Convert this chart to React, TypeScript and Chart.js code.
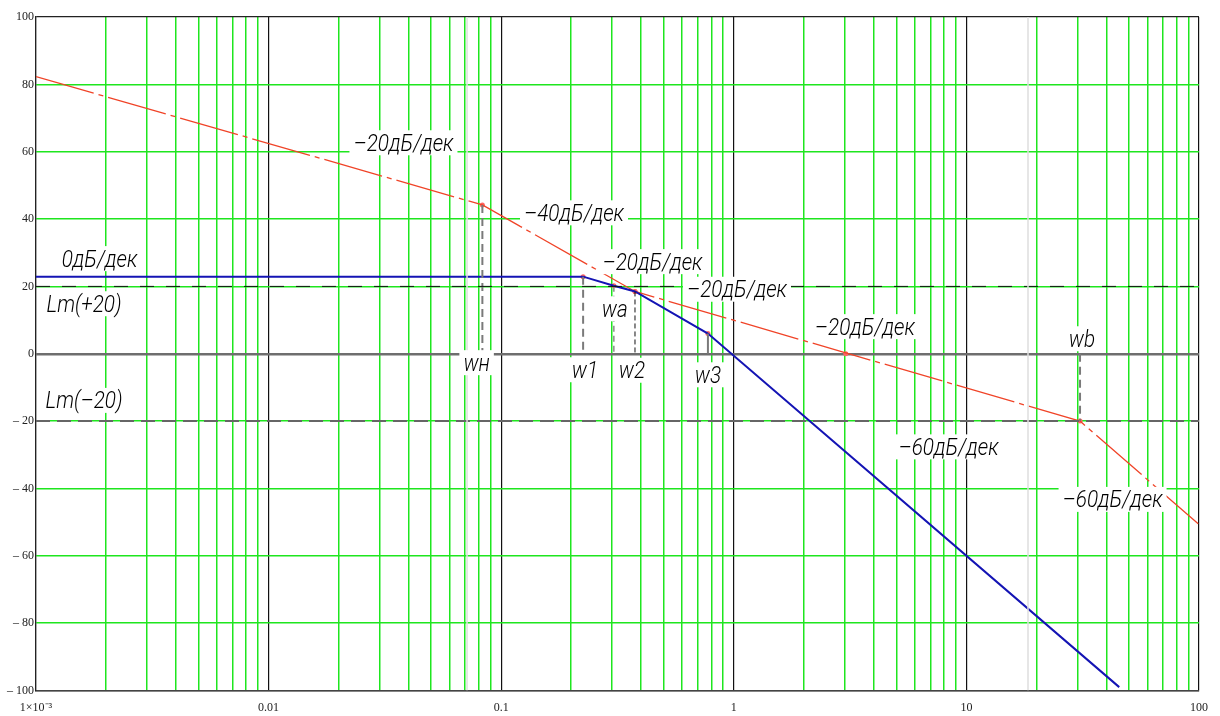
import React, { useEffect, useRef } from "react";
import { Chart, registerables } from "chart.js";

Chart.register(...registerables);

// ---------- data ----------
const xMin = 0.001;
const xMax = 100;
const yMin = -100;
const yMax = 100;

// asymptotic LAFC of the desired system (red, dash-dot)
const redFreq = [0.001, 0.083, 0.376, 30.8, 100];
const redLm = [82.3, 44.2, 18.5, -20, -50.7];
const redMarkFreq = [0.083, 0.376, 3.03, 30.8];
const redMarkLm = [44.2, 18.5, 0, -20];

// asymptotic LAFC of the initial system (blue)
const blueFreq = [0.001, 0.225, 0.305, 0.376, 0.774, 45.4];
const blueLm = [22.9, 22.9, 20.2, 18.5, 6.0, -99];
const blueMarkFreq = [0.225, 0.305, 0.376, 0.774];
const blueMarkLm = [22.9, 20.2, 18.5, 6.0];

// vertical drops to break frequencies
const dropNames = ["wн", "w1", "wa", "w2", "w3", "wb"];
const dropFreq = [0.083, 0.225, 0.305, 0.376, 0.774, 30.8];
const dropTop = [44.2, 22.9, 20.2, 18.5, 6.0, 0];
const dropBottom = [0, 0, 0, 0, 0, -20];

// horizontal levels Lm(+20), Lm(-20)
const levelLm = [20, -20];
// faint cursor lines
const cursorFreq = [0.0713, 18.4];

// ticks
const xTickValues = [0.001, 0.01, 0.1, 1, 10, 100];
const xTickLabels = ["1×10⁻³", "0.01", "0.1", "1", "10", "100"];
const yTickValues = [100, 80, 60, 40, 20, 0, -20, -40, -60, -80, -100];
const yTickLabels = ["100", "80", "60", "40", "20", "0", "– 20", "– 40", "– 60", "– 80", "– 100"];

// annotations
const noteTexts = [
  "0дБ/дек", "Lm(+20)", "Lm(–20)", "–20дБ/дек", "–40дБ/дек", "–20дБ/дек",
  "–20дБ/дек", "–20дБ/дек", "–60дБ/дек", "–60дБ/дек",
  "wн", "w1", "wa", "w2", "w3", "wb",
];
const noteFreq = [
  0.001875, 0.001609, 0.001609, 0.038, 0.2056, 0.4472,
  1.032, 3.66, 8.38, 42.5,
  0.0784, 0.229, 0.308, 0.365, 0.774, 31.4,
];
const noteLm = [
  28.4, 15.0, -13.7, 62.8, 42.0, 27.5,
  19.3, 8.2, -27.5, -43.1,
  -2.5, -4.6, 13.5, -4.75, -6.1, 4.6,
];

// ---------- styles ----------
const GREEN = "#1ee61e";
const NOTE_FONT = 'italic 300 24px Roboto, "DejaVu Sans", sans-serif';
const NOTE_REF_TEXT = "–20дБ/дек";
const NOTE_REF_WIDTH = 100;
const dropDash = [[8, 5], [8, 5], [6, 4], [5, 3], [], [8, 5]];
const dropColor = ["#7a7a7a", "#7a7a7a", "#8a8a8a", "#111111", "#7a7a7a", "#7a7a7a"];
const dropWidth = [2, 2, 1.5, 1, 2, 2];
const levelDash = [[14, 12], [14, 7]];
const levelColor = ["#111111", "#666666"];
const levelWidth = [1, 2];

const zip = (xs: number[], ys: number[]) => xs.map((x, i) => ({ x, y: ys[i] }));
const isDecade = (v: number) => Math.abs(Math.log10(v) - Math.round(Math.log10(v))) < 1e-6;

const notesPlugin = {
  id: "notes",
  afterDatasetsDraw(chart: any) {
    const { ctx, scales } = chart;
    const xs = scales.x;
    const ys = scales.y;
    ctx.save();
    ctx.font = NOTE_FONT;
    ctx.textAlign = "center";
    ctx.textBaseline = "alphabetic";
    const sx = NOTE_REF_WIDTH / ctx.measureText(NOTE_REF_TEXT).width;
    noteTexts.forEach((t, i) => {
      const px = xs.getPixelForValue(noteFreq[i]);
      const py = ys.getPixelForValue(noteLm[i]);
      const w = ctx.measureText(t).width * sx;
      ctx.fillStyle = "#ffffff";
      ctx.fillRect(px - w / 2 - 4, py - 12, w + 8, 25);
      ctx.save();
      ctx.translate(px, py + 8.5);
      ctx.scale(sx, 1);
      ctx.fillStyle = "#000000";
      ctx.fillText(t, 0, 0);
      ctx.restore();
    });
    ctx.restore();
  },
};

export default function App() {
  const ref = useRef<HTMLCanvasElement>(null);
  useEffect(() => {
    if (!ref.current) return;
    const datasets: any[] = [];
    cursorFreq.forEach((f) => {
      datasets.push({
        data: [{ x: f, y: yMin }, { x: f, y: yMax }],
        borderColor: "#dedede",
        borderWidth: 1.5,
        pointRadius: 0,
      });
    });
    levelLm.forEach((lv, i) => {
      datasets.push({
        data: [{ x: xMin, y: lv }, { x: xMax, y: lv }],
        borderColor: levelColor[i],
        borderWidth: levelWidth[i],
        borderDash: levelDash[i],
        pointRadius: 0,
      });
    });
    dropNames.forEach((_, i) => {
      datasets.push({
        data: [{ x: dropFreq[i], y: dropTop[i] }, { x: dropFreq[i], y: dropBottom[i] }],
        borderColor: dropColor[i],
        borderWidth: dropWidth[i],
        borderDash: dropDash[i],
        pointRadius: 0,
      });
    });
    datasets.push({
      data: zip(blueFreq, blueLm),
      borderColor: "#1414b4",
      borderWidth: 2,
      pointRadius: 0,
    });
    datasets.push({
      data: zip(redFreq, redLm),
      borderColor: "#f04428",
      borderWidth: 1.3,
      borderDash: [60, 5, 5, 5],
      pointRadius: 0,
    });
    datasets.push({
      data: zip(blueMarkFreq, blueMarkLm).concat(zip(redMarkFreq, redMarkLm)),
      showLine: false,
      pointRadius: 2.5,
      pointBackgroundColor: "#ff6464",
      pointBorderWidth: 0,
    });

    const chart = new Chart(ref.current, {
      type: "line",
      data: { datasets },
      options: {
        animation: false,
        responsive: false,
        events: [],
        layout: { padding: { left: 0, right: 21, top: 17, bottom: 0 } },
        plugins: { legend: { display: false }, tooltip: { enabled: false } },
        elements: { line: { tension: 0 } },
        scales: {
          x: {
            type: "logarithmic",
            min: xMin,
            max: xMax,
            afterBuildTicks: (scale: any) => {
              const t: any[] = [];
              for (let k = -3; k <= 1; k++) {
                for (let d = 1; d <= 9; d++) t.push({ value: d * Math.pow(10, k) });
              }
              t.push({ value: 100 });
              scale.ticks = t;
            },
            afterFit: (scale: any) => {
              scale.height = 25.5;
            },
            grid: {
              drawTicks: false,
              color: (c: any) => (c.tick && isDecade(c.tick.value) ? "#111111" : GREEN),
              lineWidth: (c: any) => (c.tick && isDecade(c.tick.value) ? 1.2 : 1.5),
            },
            border: { color: "#444444", width: 1.5 },
            ticks: {
              autoSkip: false,
              maxRotation: 0,
              padding: 10,
              color: "#222222",
              font: { family: "Liberation Serif", size: 12 },
              callback: (v: any) => {
                const i = xTickValues.findIndex((t) => Math.abs(t - v) / t < 1e-6);
                return i >= 0 ? xTickLabels[i] : "";
              },
            },
          },
          y: {
            type: "linear",
            min: yMin,
            max: yMax,
            afterBuildTicks: (scale: any) => {
              scale.ticks = yTickValues.map((v) => ({ value: v }));
            },
            afterFit: (scale: any) => {
              scale.width = 36;
            },
            grid: {
              drawTicks: false,
              color: (c: any) => {
                const v = c.tick ? c.tick.value : 1;
                if (v === 0) return "#6e6e6e";
                if (Math.abs(v) === 100) return "#222222";
                return GREEN;
              },
              lineWidth: (c: any) => {
                const v = c.tick ? c.tick.value : 1;
                if (v === 0) return 2.5;
                if (Math.abs(v) === 100) return 1.2;
                return 1.5;
              },
            },
            border: { color: "#222222", width: 1.2 },
            ticks: {
              padding: 2,
              color: "#222222",
              font: { family: "Liberation Serif", size: 12 },
              callback: (v: any) => {
                const i = yTickValues.indexOf(Number(v));
                return i >= 0 ? yTickLabels[i] : "";
              },
            },
          },
        },
      },
      plugins: [notesPlugin],
    } as any);
    return () => chart.destroy();
  }, []);

  return (
    <div style={{ position: "fixed", left: 0, top: 0, width: 1220, height: 716, background: "#ffffff" }}>
      <canvas ref={ref} width={1220} height={716} style={{ display: "block" }} />
    </div>
  );
}
